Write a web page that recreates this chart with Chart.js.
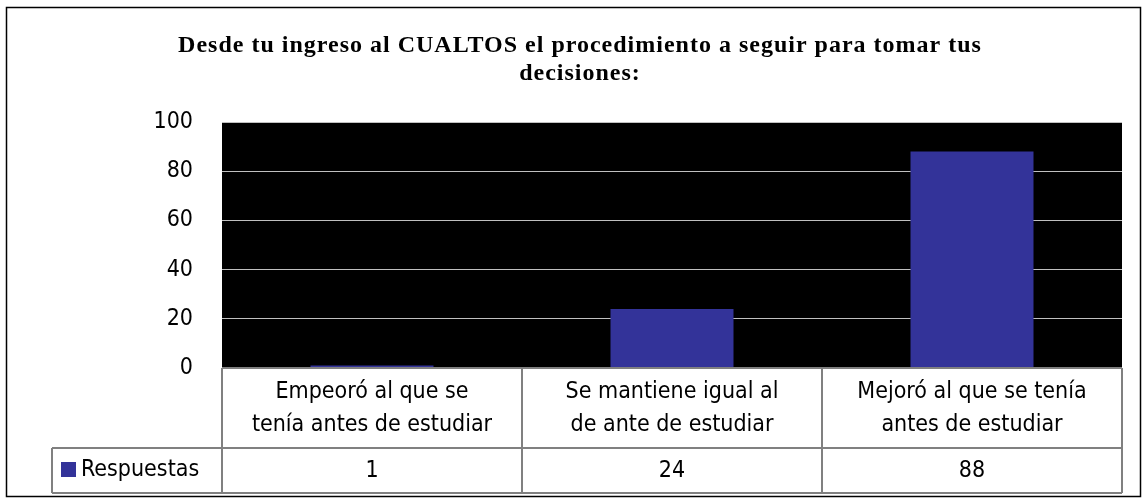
<!DOCTYPE html>
<html>
<head>
<meta charset="utf-8">
<script src="https://cdn.jsdelivr.net/npm/chart.js@4.4.1/dist/chart.umd.min.js"></script>
<style>
  html, body { margin: 0; padding: 0; background: #fff; }
  #wrap { position: relative; width: 1145px; height: 499px; }
  canvas { display: block; }
</style>
</head>
<body>
<div id="wrap"><canvas id="c" width="1145" height="499"></canvas></div>
<script>
// ---- data ----
const titleLines = ["Desde tu ingreso al CUALTOS el procedimiento a seguir para tomar tus", "decisiones:"];
const categories = ["Empeoró al que se tenía antes de estudiar", "Se mantiene igual al de ante de estudiar", "Mejoró al que se tenía antes de estudiar"];
const categoryLines = [
  ["Empeoró al que se", "tenía antes de estudiar"],
  ["Se mantiene igual al", "de ante de estudiar"],
  ["Mejoró al que se tenía", "antes de estudiar"]
];
const seriesName = "Respuestas";
const respuestas = [1, 24, 88];
const yTicks = [0, 20, 40, 60, 80, 100];

const BAR_COLOR = '#333399';
const TABLE_FONT = '23px "DejaVu Sans Condensed", "DejaVu Sans", sans-serif';
const TITLE_FONT = 'bold 24px "Liberation Serif", "Times New Roman", serif';

const background = {
  id: 'background',
  beforeDraw(chart) {
    const ctx = chart.ctx;
    ctx.save();
    ctx.fillStyle = '#fff';
    ctx.fillRect(0, 0, chart.width, chart.height);
    ctx.strokeStyle = '#000';
    ctx.lineWidth = 1.5;
    ctx.strokeRect(6.5, 7.5, 1134, 489);
    const a = chart.chartArea;
    ctx.fillStyle = '#000';
    ctx.fillRect(a.left, a.top, a.right - a.left, a.bottom - a.top);
    ctx.restore();
  }
};

const titlePlugin = {
  id: 'titlePlugin',
  afterDraw(chart) {
    const ctx = chart.ctx;
    ctx.save();
    ctx.fillStyle = '#000';
    ctx.font = TITLE_FONT;
    ctx.textAlign = 'center';
    ctx.textBaseline = 'alphabetic';
    try { ctx.letterSpacing = '1px'; } catch (e) {}
    titleLines.forEach((t, i) => ctx.fillText(t, 580, 52 + i * 28));
    ctx.restore();
  }
};

const dataTable = {
  id: 'dataTable',
  afterDraw(chart) {
    const ctx = chart.ctx;
    const a = chart.chartArea;
    const xs = chart.scales.x;
    const n = categories.length;
    const colW = (a.right - a.left) / n;
    const row1Top = a.bottom;
    const row1Bot = a.bottom + 80;
    const row2Bot = row1Bot + 45;
    const legendLeft = 52;
    ctx.save();
    ctx.strokeStyle = '#808080';
    ctx.lineWidth = 2;
    ctx.beginPath();
    ctx.moveTo(a.left, row1Top); ctx.lineTo(a.right, row1Top);
    ctx.moveTo(legendLeft, row1Bot); ctx.lineTo(a.right, row1Bot);
    ctx.moveTo(legendLeft, row2Bot); ctx.lineTo(a.right, row2Bot);
    for (let i = 0; i <= n; i++) {
      const x = a.left + i * colW;
      ctx.moveTo(x, row1Top); ctx.lineTo(x, row2Bot);
    }
    ctx.moveTo(legendLeft, row1Bot); ctx.lineTo(legendLeft, row2Bot);
    ctx.stroke();

    ctx.fillStyle = '#000';
    ctx.font = TABLE_FONT;
    ctx.textAlign = 'center';
    ctx.textBaseline = 'middle';
    for (let i = 0; i < n; i++) {
      const cx = xs.getPixelForValue(i);
      const lines = categoryLines[i];
      ctx.fillText(lines[0], cx, row1Top + 24);
      ctx.fillText(lines[1], cx, row1Top + 57);
      ctx.fillText(String(respuestas[i]), cx, row1Bot + 23);
    }
    ctx.fillStyle = BAR_COLOR;
    ctx.fillRect(61, row1Bot + 14, 15, 15);
    ctx.fillStyle = '#000';
    ctx.textAlign = 'left';
    ctx.fillText(seriesName, 81, row1Bot + 22);
    ctx.restore();
  }
};

new Chart(document.getElementById('c'), {
  type: 'bar',
  data: {
    labels: categories,
    datasets: [{
      label: seriesName,
      data: respuestas,
      backgroundColor: BAR_COLOR,
      borderWidth: 0,
      categoryPercentage: 1,
      barPercentage: 0.41
    }]
  },
  options: {
    responsive: false,
    animation: false,
    layout: { padding: { left: 0, right: 23, top: 122, bottom: 131 } },
    plugins: {
      legend: { display: false },
      tooltip: { enabled: false },
      title: { display: false }
    },
    scales: {
      x: { display: false },
      y: {
        min: 0, max: 100,
        afterBuildTicks(scale) { scale.ticks = yTicks.map(v => ({ value: v })); },
        afterFit(scale) { scale.width = 222; },
        border: { display: false },
        grid: { color: '#c0c0c0', lineWidth: 1, drawTicks: false },
        ticks: {
          color: '#000',
          padding: 29,
          font: { family: '"DejaVu Sans Condensed", "DejaVu Sans", sans-serif', size: 23 }
        }
      }
    }
  },
  plugins: [background, titlePlugin, dataTable]
});
</script>
</body>
</html>
